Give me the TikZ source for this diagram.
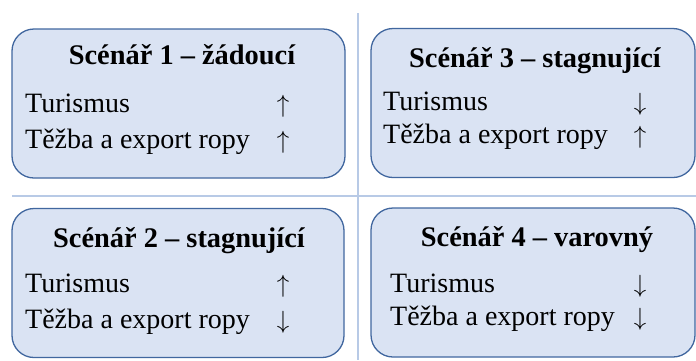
\documentclass[tikz,border=0pt]{standalone}
\usepackage{fontspec}
\setmainfont{Liberation Serif}
\usepackage{xcolor}
\usetikzlibrary{positioning}
\definecolor{boxfill}{HTML}{DAE3F3}
\definecolor{boxline}{HTML}{41679F}
\definecolor{gridline}{HTML}{B8CAE6}

\begin{document}
\begin{tikzpicture}[
    x=1pt, y=-1pt,
    every node/.style={font=\fontsize{28}{30}\selectfont, inner sep=0pt},
    scenbox/.style={
      draw=boxline,
      fill=boxfill,
      line width=1.3pt,
      rounded corners=22pt,
      minimum height=149pt
    },
    title/.style={anchor=base, font=\fontsize{28.4}{30}\selectfont\bfseries},
    item/.style={anchor=base west},
    trend/.style={anchor=base},
    divider/.style={draw=gridline, line width=1.2pt}
  ]
    \useasboundingbox (0,0) rectangle (696,360);

    % Quadrant dividers
    \coordinate (hleft) at (12,196);
    \coordinate (hright) at (696,196);
    \coordinate (vtop) at (358,13);
    \coordinate (vbottom) at (358,360);
    \draw[divider] (hleft) -- (hright);
    \draw[divider] (vtop) -- (vbottom);

    % Scenario 1 (top left)
    \node[scenbox, minimum width=333pt] (box1) at (178.5,103.5) {};
    \node[title] (title1) at (182,64) {Scénář 1 – žádoucí};
    \node[item] (tur1) at (25,112) {Turismus};
    \node[item] (oil1) at (25,148) {Těžba a export ropy};
    \node[trend] (turarr1) at (283,112) {$\uparrow$};
    \node[trend] (oilarr1) at (283,148) {$\uparrow$};

    % Scenario 3 (top right)
    \node[scenbox, minimum width=324pt] (box3) at (533,103) {};
    \node[title] (title3) at (535,67) {Scénář 3 – stagnující};
    \node[item] (tur3) at (383,110) {Turismus};
    \node[item] (oil3) at (383,143) {Těžba a export ropy};
    \node[trend] (turarr3) at (640,110) {$\downarrow$};
    \node[trend] (oilarr3) at (640,143) {$\uparrow$};

    % Scenario 2 (bottom left)
    \node[scenbox, minimum width=332pt] (box2) at (178,283) {};
    \node[title] (title2) at (179,247) {Scénář 2 – stagnující};
    \node[item] (tur2) at (25,292) {Turismus};
    \node[item] (oil2) at (25,328) {Těžba a export ropy};
    \node[trend] (turarr2) at (283,292) {$\uparrow$};
    \node[trend] (oilarr2) at (283,328) {$\downarrow$};

    % Scenario 4 (bottom right)
    \node[scenbox, minimum width=324pt] (box4) at (533,282.5) {};
    \node[title] (title4) at (537,246) {Scénář 4 – varovný};
    \node[item] (tur4) at (390,292) {Turismus};
    \node[item] (oil4) at (390,325) {Těžba a export ropy};
    \node[trend] (turarr4) at (640,292) {$\downarrow$};
    \node[trend] (oilarr4) at (640,325) {$\downarrow$};

  \end{tikzpicture}
\end{document}
